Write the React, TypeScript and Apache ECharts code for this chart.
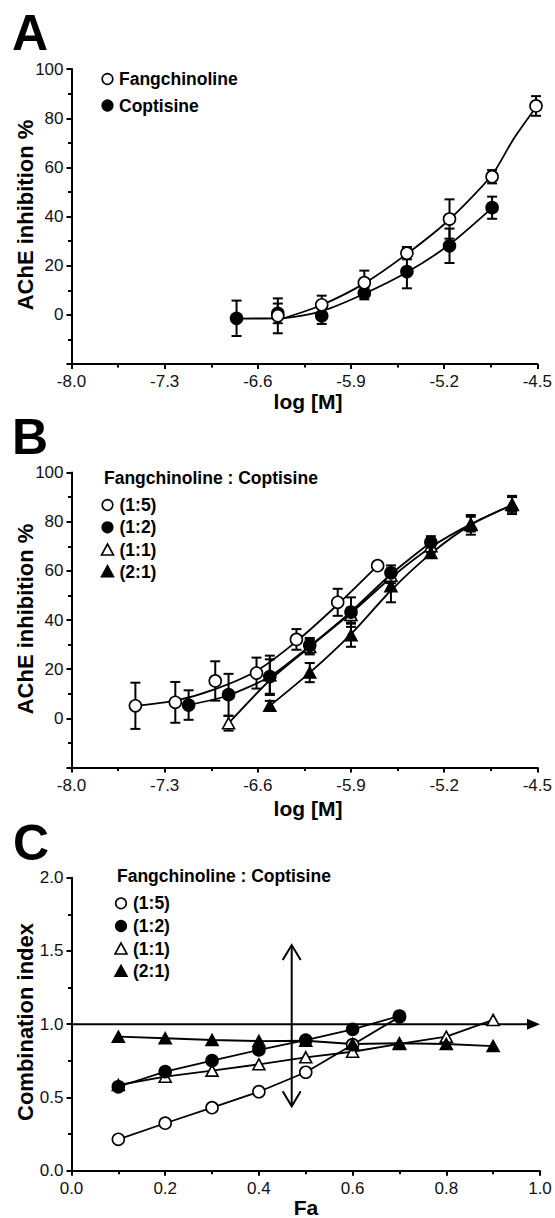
import React, { useEffect, useRef } from 'react';
import * as echarts from 'echarts';

const FONT = '"Liberation Sans", Arial, Helvetica, sans-serif';

// log[M] axes start at -8.0; the axis is drawn shifted so that ticks count from 0
const X0 = -8;
const LOG_SPAN = 3.5;

// ---------- Panel A : measured means ± error ----------
const aFangLogM = [-6.45, -6.12, -5.8, -5.48, -5.16, -4.84, -4.51];
const aFangMean = [-0.4, 4.1, 13.1, 25.1, 39.0, 56.2, 85.0];
const aFangErr = [7.1, 3.7, 4.9, 2.5, 8.0, 2.7, 4.0];
const aCoptLogM = [-6.76, -6.45, -6.12, -5.8, -5.48, -5.16, -4.84];
const aCoptMean = [-1.4, 0.6, -0.4, 8.8, 17.6, 28.1, 43.6];
const aCoptErr = [7.2, 4.0, 3.3, 2.5, 6.8, 7.0, 4.5];
// Panel A : fitted curves
const aFangFitLogM = [-6.4, -6.12, -5.8, -5.48, -5.16, -4.84, -4.68, -4.51];
const aFangFit = [-1.3, 4.0, 12.8, 24.8, 38.8, 57.0, 71.5, 84.5];
const aCoptFitLogM = [-6.76, -6.4, -6.12, -5.8, -5.48, -5.16, -4.84];
const aCoptFit = [-1.5, -1.3, 1.5, 8.6, 17.3, 28.6, 43.5];
const aLegend = ['Fangchinoline', 'Coptisine'];

// ---------- Panel B : measured means ± error ----------
const b15LogM = [-7.52, -7.22, -6.92, -6.61, -6.31, -6.0, -5.7];
const b15Mean = [5.1, 6.5, 15.2, 18.4, 32.1, 47.2, 62.1];
const b15Err = [9.4, 8.3, 8.0, 6.3, 4.2, 5.5, 1.0];
const b12LogM = [-7.12, -6.82, -6.51, -6.21, -5.9, -5.6, -5.3];
const b12Mean = [5.4, 9.6, 17.0, 29.7, 43.2, 59.2, 71.6];
const b12Err = [6.0, 8.5, 7.0, 3.0, 6.0, 3.0, 2.5];
const b11LogM = [-6.82, -6.51, -6.21, -5.9, -5.6, -5.3, -5.0, -4.69];
const b11Mean = [-2.0, 17.5, 29.0, 42.0, 58.0, 70.0, 79.0, 87.0];
const b11Err = [3.0, 8.0, 3.0, 3.0, 3.0, 2.5, 3.0, 3.0];
const b21LogM = [-6.51, -6.21, -5.9, -5.6, -5.3, -5.0, -4.69];
const b21Mean = [5.1, 18.6, 33.8, 53.7, 67.3, 78.7, 86.8];
const b21Err = [2.0, 3.9, 4.7, 6.5, 2.0, 4.0, 3.7];
// Panel B : fitted curves
const b15Fit = [5.1, 7.2, 11.9, 19.3, 31.3, 46.3, 62.1];
const b12Fit = [5.4, 9.4, 17.0, 29.4, 43.4, 58.6, 71.6];
const b11Fit = [-2.0, 15.5, 29.0, 42.8, 57.2, 69.6, 79.0, 86.8];
const b21Fit = [5.1, 18.6, 34.3, 52.0, 67.0, 78.7, 86.8];

// ---------- Panel C ----------
const cFa = [0.1, 0.2, 0.3, 0.4, 0.5, 0.6, 0.7, 0.8, 0.9];
const c15CI = [0.214, 0.324, 0.43, 0.539, 0.672, 0.86, 1.05];
const c12CI = [0.573, 0.676, 0.751, 0.824, 0.892, 0.965, 1.056];
const c11CI = [0.585, 0.642, 0.683, 0.726, 0.774, 0.812, 0.865, 0.915, 1.029];
const c21CI = [0.915, 0.904, 0.892, 0.885, 0.887, 0.865, 0.87, 0.865, 0.851];
const cRefLine = [0, 1, 1, 1]; // CI = 1 reference arrow: x1, y1, x2, y2
const cFaMarker = [0.47, 0.44, 0.47, 1.54]; // vertical double arrow

const ratioTitle = 'Fangchinoline : Coptisine';
const ratioLabels = ['(1:5)', '(1:2)', '(1:1)', '(2:1)'];

// tick label sets
const yLabelsAB = [0, 20, 40, 60, 80, 100];
const xLabelsAB = [-8.0, -7.3, -6.6, -5.9, -5.2, -4.5];

const BLACK = '#000';

function symbolSize(symbol: string) {
  return symbol === 'triangle' ? [12, 11] : 12;
}

function curveSeries(xs: number[], ys: number[], grid: number, shift: number) {
  return {
    type: 'line',
    xAxisIndex: grid,
    yAxisIndex: grid,
    data: ys.map((y, i) => [xs[i] - shift, y]),
    symbol: 'none',
    smooth: 0.25,
    lineStyle: { color: BLACK, width: 1.8 },
    z: 1,
    silent: true,
  };
}

function pointSeries(name: string, xs: number[], ys: number[], grid: number, symbol: string, filled: boolean, shift: number) {
  return {
    type: 'scatter',
    name,
    xAxisIndex: grid,
    yAxisIndex: grid,
    data: ys.map((y, i) => [xs[i] - shift, y]),
    symbol,
    symbolSize: symbolSize(symbol),
    itemStyle: { color: filled ? BLACK : '#fff', borderColor: BLACK, borderWidth: 1.6, opacity: 1 },
    z: 3,
    silent: true,
  };
}

function lineSeries(name: string, xs: number[], ys: number[], grid: number, symbol: string, filled: boolean) {
  return {
    type: 'line',
    name,
    xAxisIndex: grid,
    yAxisIndex: grid,
    data: ys.map((y, i) => [xs[i], y]),
    symbol,
    symbolSize: symbolSize(symbol),
    showAllSymbol: true,
    lineStyle: { color: BLACK, width: 1.8 },
    itemStyle: { color: filled ? BLACK : '#fff', borderColor: BLACK, borderWidth: 1.6 },
    z: 3,
    silent: true,
  };
}

function errSeries(xs: number[], ys: number[], es: number[], grid: number, shift: number) {
  return {
    type: 'custom',
    xAxisIndex: grid,
    yAxisIndex: grid,
    data: ys.map((y, i) => [xs[i] - shift, y, es[i]]),
    encode: { x: 0, y: 1 },
    z: 2,
    silent: true,
    renderItem: (_p: any, api: any) => {
      const x = api.value(0);
      const y = api.value(1);
      const e = api.value(2);
      const t = api.coord([x, y + e]);
      const b = api.coord([x, y - e]);
      const st = { stroke: BLACK, lineWidth: 2 };
      return {
        type: 'group',
        children: [
          { type: 'line', shape: { x1: t[0], y1: t[1], x2: b[0], y2: b[1] }, style: st },
          { type: 'line', shape: { x1: t[0] - 5, y1: t[1], x2: t[0] + 5, y2: t[1] }, style: st },
          { type: 'line', shape: { x1: b[0] - 5, y1: b[1], x2: b[0] + 5, y2: b[1] }, style: st },
        ],
      };
    },
  };
}

const axisCommon = {
  axisLine: { show: true, onZero: false, lineStyle: { color: BLACK, width: 2 } },
  axisTick: { show: true, length: 5, lineStyle: { color: BLACK, width: 2 } },
  minorTick: { show: true, splitNumber: 2, length: 3.5, lineStyle: { color: BLACK, width: 2 } },
  splitLine: { show: false },
  minorSplitLine: { show: false },
};

function logXAxis(grid: number) {
  return {
    ...axisCommon,
    type: 'value',
    gridIndex: grid,
    min: 0,
    max: LOG_SPAN,
    interval: 0.7,
    axisLabel: {
      color: '#111',
      fontSize: 17,
      fontFamily: FONT,
      margin: 9,
      formatter: (v: number) => {
        const val = v + X0;
        const hit = xLabelsAB.find((t) => Math.abs(t - val) < 1e-6);
        return hit === undefined ? '' : hit.toFixed(1);
      },
    },
  };
}

function pctYAxis(grid: number) {
  return {
    ...axisCommon,
    type: 'value',
    gridIndex: grid,
    min: -20,
    max: 100,
    interval: 20,
    axisLabel: {
      color: '#111',
      fontSize: 17,
      fontFamily: FONT,
      margin: 8,
      formatter: (v: number) => (yLabelsAB.includes(Math.round(v)) ? String(Math.round(v)) : ''),
    },
  };
}

function txt(text: string, x: number, y: number, size: number, bold = true, align = 'left', rotation = 0, lineHeight?: number) {
  return {
    type: 'text',
    x,
    y,
    rotation,
    silent: true,
    style: {
      text,
      fill: BLACK,
      font: `${bold ? 'bold ' : ''}${size}px ${FONT}`,
      lineHeight: lineHeight ?? size,
      align,
      verticalAlign: 'middle',
    },
  };
}

function legendMarker(kind: string, filled: boolean, cx: number, cy: number) {
  const style = { fill: filled ? BLACK : '#fff', stroke: BLACK, lineWidth: 1.6 };
  if (kind === 'circle') {
    return { type: 'circle', silent: true, shape: { cx, cy, r: 5.3 }, style };
  }
  return {
    type: 'polygon',
    silent: true,
    shape: { points: [[cx, cy - 6], [cx + 6, cy + 5], [cx - 6, cy + 5]] },
    style,
  };
}

const ratioKinds: [string, boolean][] = [
  ['circle', false],
  ['circle', true],
  ['triangle', false],
  ['triangle', true],
];

export default function App() {
  const ref = useRef<HTMLDivElement>(null);

  useEffect(() => {
    document.body.style.margin = '0';
    if (!ref.current) return;
    const chart = echarts.init(ref.current, undefined, { renderer: 'svg' });

    const graphic: any[] = [
      txt('A', 12, 33, 50, true, 'left', 0, 36),
      txt('B', 12, 436.5, 50, true, 'left', 0, 36),
      txt('C', 13, 843, 50, true, 'left', 0, 36),
      txt('AChE inhibition %', 25, 215, 22, true, 'center', Math.PI / 2),
      txt('AChE inhibition %', 25, 619, 22, true, 'center', Math.PI / 2),
      txt('Combination index', 25, 1022, 22, true, 'center', Math.PI / 2),
      txt('log [M]', 308, 401.5, 21, true, 'center'),
      txt('log [M]', 308, 808, 21, true, 'center'),
      txt('Fa', 306, 1207, 21, true, 'center', 0, 20),
      // legend A
      legendMarker('circle', false, 107.5, 79),
      txt(aLegend[0], 119, 79, 17.5),
      legendMarker('circle', true, 107.5, 105.5),
      txt(aLegend[1], 119, 105.5, 17.5),
      // legend B / C headers
      txt(ratioTitle, 104, 477.5, 17.5),
      txt(ratioTitle, 117, 875.5, 17.5),
    ];
    const bY = [505, 527.3, 550, 571.7];
    const cY = [903.3, 926, 949, 971.3];
    ratioLabels.forEach((lab, i) => {
      graphic.push(legendMarker(ratioKinds[i][0], ratioKinds[i][1], 107.5, bY[i]));
      graphic.push(txt(lab, 119.5, bY[i], 17.5));
      graphic.push(legendMarker(ratioKinds[i][0], ratioKinds[i][1], 121, cY[i]));
      graphic.push(txt(lab, 133, cY[i], 17.5));
    });

    const arrowSeries = {
      type: 'custom',
      xAxisIndex: 2,
      yAxisIndex: 2,
      data: [cRefLine, cFaMarker],
      encode: { x: [0, 2], y: [1, 3] },
      z: 1,
      silent: true,
      renderItem: (p: any, api: any) => {
        const a = api.coord([api.value(0), api.value(1)]);
        const b = api.coord([api.value(2), api.value(3)]);
        const st = { stroke: BLACK, lineWidth: 2, fill: 'none' };
        if (p.dataIndex === 0) {
          return {
            type: 'group',
            children: [
              { type: 'line', shape: { x1: a[0], y1: a[1], x2: b[0] - 8, y2: b[1] }, style: st },
              {
                type: 'polygon',
                shape: { points: [[b[0], b[1]], [b[0] - 13, b[1] - 5.5], [b[0] - 13, b[1] + 5.5]] },
                style: { fill: BLACK },
              },
            ],
          };
        }
        return {
          type: 'group',
          children: [
            { type: 'line', shape: { x1: a[0], y1: a[1], x2: b[0], y2: b[1] }, style: st },
            { type: 'polyline', shape: { points: [[b[0] - 9, b[1] + 15], [b[0], b[1]], [b[0] + 9, b[1] + 15]] }, style: st },
            { type: 'polyline', shape: { points: [[a[0] - 9, a[1] - 15], [a[0], a[1]], [a[0] + 9, a[1] - 15]] }, style: st },
          ],
        };
      },
    };

    const option: any = {
      animation: false,
      backgroundColor: '#fff',
      grid: [
        { left: 71.5, top: 69.1, width: 469, height: 294.9 },
        { left: 71.5, top: 472.5, width: 469, height: 295 },
        { left: 71.5, top: 877.7, width: 468.5, height: 293 },
      ],
      xAxis: [
        logXAxis(0),
        logXAxis(1),
        {
          ...axisCommon,
          type: 'value',
          gridIndex: 2,
          min: 0,
          max: 1,
          interval: 0.2,
          axisLabel: { color: '#111', fontSize: 17, fontFamily: FONT, margin: 9, formatter: (v: number) => v.toFixed(1) },
        },
      ],
      yAxis: [
        pctYAxis(0),
        pctYAxis(1),
        {
          ...axisCommon,
          type: 'value',
          gridIndex: 2,
          min: 0,
          max: 2,
          interval: 0.5,
          axisLabel: { color: '#111', fontSize: 17, fontFamily: FONT, margin: 8, formatter: (v: number) => v.toFixed(1) },
        },
      ],
      graphic,
      series: [
        // A
        curveSeries(aCoptFitLogM, aCoptFit, 0, X0),
        curveSeries(aFangFitLogM, aFangFit, 0, X0),
        errSeries(aCoptLogM, aCoptMean, aCoptErr, 0, X0),
        errSeries(aFangLogM, aFangMean, aFangErr, 0, X0),
        pointSeries('Coptisine', aCoptLogM, aCoptMean, 0, 'circle', true, X0),
        pointSeries('Fangchinoline', aFangLogM, aFangMean, 0, 'circle', false, X0),
        // B
        curveSeries(b15LogM, b15Fit, 1, X0),
        curveSeries(b12LogM, b12Fit, 1, X0),
        curveSeries(b11LogM, b11Fit, 1, X0),
        curveSeries(b21LogM, b21Fit, 1, X0),
        errSeries(b15LogM, b15Mean, b15Err, 1, X0),
        errSeries(b11LogM, b11Mean, b11Err, 1, X0),
        errSeries(b12LogM, b12Mean, b12Err, 1, X0),
        errSeries(b21LogM, b21Mean, b21Err, 1, X0),
        pointSeries('B (1:5)', b15LogM, b15Mean, 1, 'circle', false, X0),
        pointSeries('B (1:1)', b11LogM, b11Mean, 1, 'triangle', false, X0),
        pointSeries('B (1:2)', b12LogM, b12Mean, 1, 'circle', true, X0),
        pointSeries('B (2:1)', b21LogM, b21Mean, 1, 'triangle', true, X0),
        // C
        arrowSeries,
        lineSeries('C (1:1)', cFa, c11CI, 2, 'triangle', false),
        lineSeries('C (1:5)', cFa, c15CI, 2, 'circle', false),
        lineSeries('C (1:2)', cFa, c12CI, 2, 'circle', true),
        lineSeries('C (2:1)', cFa, c21CI, 2, 'triangle', true),
      ],
    };

    chart.setOption(option);
    return () => chart.dispose();
  }, []);

  return <div ref={ref} style={{ width: 555, height: 1218, background: '#fff' }} />;
}
